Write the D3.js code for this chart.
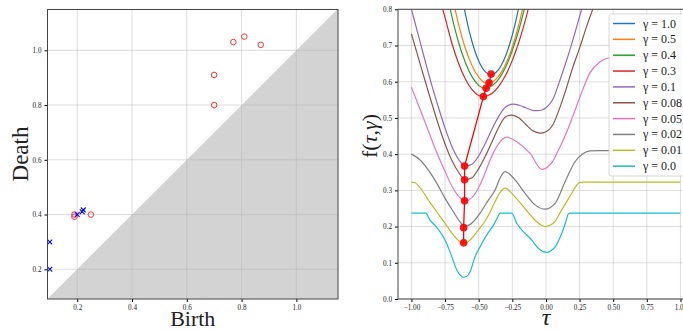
<!DOCTYPE html>
<html>
<head>
<meta charset="utf-8">
<script src="https://cdn.jsdelivr.net/npm/d3@7"></script>
<style>
  body { margin: 0; background: #fff; }
  svg { display: block; }
  text { font-family: "Liberation Serif", "DejaVu Serif", serif; fill: #222; }
  .tick text { font-size: 7.2px; }
</style>
</head>
<body>
<div class="container"></div>
<script>
// ---- persistence diagram (left) ----
const h0Birth = [0.10, 0.10, 0.20, 0.218, 0.222];
const h0Death = [0.20, 0.30, 0.40, 0.410, 0.417];
const h1Birth = [0.19, 0.19, 0.25, 0.70, 0.70, 0.77, 0.81, 0.87];
const h1Death = [0.40, 0.392, 0.40, 0.80, 0.91, 1.03, 1.05, 1.02];
const pdTicks = [0.2, 0.4, 0.6, 0.8, 1.0];

// ---- f(tau, gamma) curves (right) ----
const gammaLabels = ["1.0", "0.5", "0.4", "0.3", "0.1", "0.08", "0.05", "0.02", "0.01", "0.0"];
const lineColors = ["#1f77b4", "#ff7f0e", "#2ca02c", "#d62728", "#9467bd",
                    "#8c564b", "#e377c2", "#7f7f7f", "#bcbd22", "#17becf"];

const tau_g100 = [-0.63, -0.60, -0.55, -0.50, -0.45, -0.41, -0.37, -0.33, -0.30, -0.25, -0.20, -0.18];
const f_g100   = [0.85, 0.789, 0.711, 0.657, 0.627, 0.619, 0.626, 0.647, 0.671, 0.729, 0.809, 0.85];

const tau_g050 = [-0.70, -0.65, -0.60, -0.55, -0.50, -0.45, -0.43, -0.40, -0.35, -0.30, -0.25, -0.20, -0.15];
const f_g050   = [0.842, 0.759, 0.693, 0.645, 0.613, 0.597, 0.596, 0.599, 0.616, 0.648, 0.696, 0.76, 0.839];

const tau_g040 = [-0.75, -0.70, -0.65, -0.60, -0.55, -0.50, -0.45, -0.40, -0.35, -0.30, -0.25, -0.20, -0.15];
const f_g040   = [0.868, 0.781, 0.709, 0.654, 0.614, 0.59, 0.582, 0.589, 0.608, 0.64, 0.686, 0.745, 0.816];

const tau_g030 = [-0.80, -0.75, -0.70, -0.65, -0.60, -0.55, -0.50, -0.465, -0.43, -0.40, -0.35, -0.30, -0.25, -0.20, -0.15, -0.10];
const f_g030   = [0.84, 0.777, 0.707, 0.651, 0.608, 0.578, 0.562, 0.559, 0.562, 0.568, 0.588, 0.618, 0.659, 0.711, 0.774, 0.85];

const tau_g010 = [-1.00, -0.95, -0.90, -0.85, -0.80, -0.75, -0.70, -0.65, -0.60, -0.55, -0.50, -0.45, -0.40, -0.35, -0.30, -0.242, -0.20, -0.15, -0.10, -0.068, -0.03, 0.00, 0.05, 0.10, 0.15, 0.20, 0.266, 0.30];
const f_g010   = [0.80, 0.73, 0.66, 0.592, 0.53, 0.472, 0.422, 0.386, 0.367, 0.372, 0.395, 0.43, 0.47, 0.505, 0.53, 0.538, 0.535, 0.528, 0.521, 0.52, 0.522, 0.528, 0.55, 0.60, 0.655, 0.715, 0.80, 0.84];

const tau_g008 = [-1.00, -0.95, -0.90, -0.85, -0.80, -0.75, -0.70, -0.65, -0.60, -0.55, -0.50, -0.45, -0.40, -0.35, -0.30, -0.254, -0.20, -0.15, -0.10, -0.044, 0.00, 0.05, 0.10, 0.15, 0.20, 0.254, 0.30, 0.348, 0.40];
const f_g008   = [0.732, 0.668, 0.604, 0.542, 0.482, 0.428, 0.383, 0.35, 0.33, 0.335, 0.36, 0.395, 0.435, 0.475, 0.503, 0.508, 0.50, 0.482, 0.465, 0.458, 0.462, 0.48, 0.525, 0.58, 0.64, 0.697, 0.75, 0.80, 0.85];

const tau_g005 = [-1.00, -0.936, -0.874, -0.819, -0.75, -0.70, -0.65, -0.60, -0.55, -0.50, -0.45, -0.416, -0.35, -0.291, -0.22, -0.118, -0.031, 0.05, 0.092, 0.129, 0.20, 0.254, 0.328, 0.402, 0.477, 0.55, 0.75, 1.00];
const f_g005   = [0.585, 0.524, 0.464, 0.411, 0.352, 0.312, 0.284, 0.271, 0.28, 0.308, 0.35, 0.383, 0.43, 0.447, 0.435, 0.402, 0.358, 0.38, 0.411, 0.439, 0.505, 0.559, 0.625, 0.655, 0.667, 0.67, 0.67, 0.67];

const tau_g002 = [-1.00, -0.936, -0.874, -0.812, -0.75, -0.688, -0.639, -0.601, -0.552, -0.49, -0.428, -0.378, -0.34, -0.304, -0.23, -0.155, -0.081, -0.007, 0.068, 0.142, 0.216, 0.278, 0.328, 0.40, 0.50, 0.75, 1.00];
const f_g002   = [0.40, 0.384, 0.356, 0.32, 0.278, 0.241, 0.213, 0.20, 0.209, 0.237, 0.273, 0.301, 0.335, 0.352, 0.329, 0.292, 0.26, 0.248, 0.264, 0.324, 0.379, 0.402, 0.409, 0.41, 0.41, 0.41, 0.41];

const tau_g001 = [-1.00, -0.973, -0.923, -0.874, -0.812, -0.75, -0.688, -0.639, -0.614, -0.59, -0.564, -0.503, -0.44, -0.378, -0.34, -0.304, -0.242, -0.168, -0.094, -0.04, -0.007, 0.055, 0.117, 0.192, 0.23, 0.254, 0.30, 0.50, 0.75, 1.00];
const f_g001   = [0.323, 0.321, 0.301, 0.273, 0.241, 0.209, 0.177, 0.158, 0.153, 0.155, 0.163, 0.19, 0.223, 0.269, 0.295, 0.306, 0.287, 0.255, 0.223, 0.205, 0.20, 0.209, 0.246, 0.292, 0.315, 0.322, 0.323, 0.323, 0.323, 0.323];

const tau_g000 = [-1.00, -0.95, -0.894, -0.862, -0.812, -0.75, -0.70, -0.663, -0.635, -0.614, -0.59, -0.564, -0.527, -0.49, -0.44, -0.39, -0.36, -0.341, -0.30, -0.254, -0.217, -0.168, -0.106, -0.057, -0.02, 0.01, 0.04, 0.068, 0.117, 0.145, 0.167, 0.18, 0.25, 0.50, 0.75, 1.00];
const f_g000   = [0.237, 0.237, 0.237, 0.218, 0.198, 0.163, 0.117, 0.08, 0.065, 0.06, 0.062, 0.075, 0.117, 0.144, 0.177, 0.204, 0.225, 0.237, 0.237, 0.237, 0.209, 0.186, 0.163, 0.14, 0.131, 0.129, 0.134, 0.144, 0.181, 0.21, 0.235, 0.237, 0.237, 0.237, 0.237, 0.237];

// minima of each curve, joined by the red path
const minTau = [-0.408, -0.423, -0.445, -0.465, -0.605, -0.605, -0.605, -0.612, -0.612];
const minF   = [0.621, 0.597, 0.582, 0.559, 0.367, 0.329, 0.271, 0.197, 0.155];

const tauTicks = [-1.0, -0.75, -0.5, -0.25, 0.0, 0.25, 0.5, 0.75, 1.0];
const fTicks = [0.0, 0.1, 0.2, 0.3, 0.4, 0.5, 0.6, 0.7, 0.8];

const curveTaus = [tau_g100, tau_g050, tau_g040, tau_g030, tau_g010, tau_g008, tau_g005, tau_g002, tau_g001, tau_g000];
const curveFs   = [f_g100, f_g050, f_g040, f_g030, f_g010, f_g008, f_g005, f_g002, f_g001, f_g000];

const svg = d3.select(".container")
                .append("svg")
                  .attr("width", 683)
                  .attr("height", 330);

// ===================== left panel =====================
const left = {x0: 47.5, x1: 338, y0: 9.5, y1: 299};

const xPD = d3.scaleLinear().domain([0.0915, 1.152]).range([left.x0, left.x1]);
const yPD = d3.scaleLinear().domain([0.0915, 1.149]).range([left.y1, left.y0]);

svg.append("clipPath").attr("id", "clipL")
  .append("rect")
    .attr("x", left.x0).attr("y", left.y0)
    .attr("width", left.x1 - left.x0).attr("height", left.y1 - left.y0);

const gL = svg.append("g");

// shaded region below the diagonal
gL.append("path")
  .attr("clip-path", "url(#clipL)")
  .attr("fill", "#d3d3d3")
  .attr("d", d3.line()([
    [xPD(0.0915), yPD(0.0915)],
    [xPD(1.2), yPD(1.2)],
    [xPD(1.2), yPD(0.0915)]
  ]));

// grid
gL.selectAll(".vgrid").data(pdTicks).enter().append("line")
  .attr("x1", d => xPD(d)).attr("x2", d => xPD(d))
  .attr("y1", left.y0).attr("y2", left.y1)
  .attr("stroke", "#b0b0b0").attr("stroke-opacity", 0.55).attr("stroke-width", 0.8);
gL.selectAll(".hgrid").data(pdTicks).enter().append("line")
  .attr("y1", d => yPD(d)).attr("y2", d => yPD(d))
  .attr("x1", left.x0).attr("x2", left.x1)
  .attr("stroke", "#b0b0b0").attr("stroke-opacity", 0.55).attr("stroke-width", 0.8);

// H1 points: open red circles
gL.selectAll(".h1").data(h1Birth).enter().append("circle")
  .attr("cx", d => xPD(d))
  .attr("cy", (d, i) => yPD(h1Death[i]))
  .attr("r", 2.8)
  .attr("fill", "none")
  .attr("stroke", "#ff3030")
  .attr("stroke-width", 1);

// H0 points: blue crosses
const s = 2.4;
gL.selectAll(".h0").data(h0Birth).enter().append("path")
  .attr("d", (d, i) => {
    const cx = xPD(d), cy = yPD(h0Death[i]);
    return `M${cx - s},${cy - s}L${cx + s},${cy + s}M${cx - s},${cy + s}L${cx + s},${cy - s}`;
  })
  .attr("stroke", "#0000ff")
  .attr("stroke-width", 1.1);

gL.append("g")
  .attr("transform", `translate(0,${left.y1})`)
  .call(d3.axisBottom(xPD).tickValues(pdTicks).tickFormat(d3.format(".1f")).tickSize(3).tickPadding(3))
  .call(g => g.select(".domain").remove());
gL.append("g")
  .attr("transform", `translate(${left.x0},0)`)
  .call(d3.axisLeft(yPD).tickValues(pdTicks).tickFormat(d3.format(".1f")).tickSize(3).tickPadding(3))
  .call(g => g.select(".domain").remove());

gL.append("rect")
  .attr("x", left.x0).attr("y", left.y0)
  .attr("width", left.x1 - left.x0).attr("height", left.y1 - left.y0)
  .attr("fill", "none").attr("stroke", "#444").attr("stroke-width", 1);

gL.append("text")
  .attr("x", (left.x0 + left.x1) / 2).attr("y", 326)
  .attr("text-anchor", "middle")
  .style("font-size", "22px")
  .text("Birth");
gL.append("text")
  .attr("transform", "translate(28,154) rotate(-90)")
  .attr("text-anchor", "middle")
  .style("font-size", "23px")
  .text("Death");

// ===================== right panel =====================
const right = {x0: 398, x1: 693.9, y0: 9.3, y1: 299};

const xT = d3.scaleLinear().domain([-1.1, 1.1]).range([right.x0, right.x1]);
const yF = d3.scaleLinear().domain([0, 0.8]).range([right.y1, right.y0]);

svg.append("clipPath").attr("id", "clipR")
  .append("rect")
    .attr("x", right.x0).attr("y", right.y0)
    .attr("width", right.x1 - right.x0).attr("height", right.y1 - right.y0);

const gR = svg.append("g");

gR.selectAll(".vgrid").data(tauTicks).enter().append("line")
  .attr("x1", d => xT(d)).attr("x2", d => xT(d))
  .attr("y1", right.y0).attr("y2", right.y1)
  .attr("stroke", "#b0b0b0").attr("stroke-opacity", 0.55).attr("stroke-width", 0.8);
gR.selectAll(".hgrid").data(fTicks).enter().append("line")
  .attr("y1", d => yF(d)).attr("y2", d => yF(d))
  .attr("x1", right.x0).attr("x2", right.x1)
  .attr("stroke", "#b0b0b0").attr("stroke-opacity", 0.55).attr("stroke-width", 0.8);

const line = d3.line()
  .x(d => xT(d[0]))
  .y(d => yF(d[1]))
  .curve(d3.curveMonotoneX);

const plotArea = gR.append("g").attr("clip-path", "url(#clipR)");

plotArea.selectAll(".curve").data(curveTaus).enter().append("path")
  .attr("fill", "none")
  .attr("stroke", (d, i) => lineColors[i])
  .attr("stroke-width", 1.2)
  .attr("d", (d, i) => line(d.map((t, j) => [t, curveFs[i][j]])));

plotArea.append("path")
  .attr("fill", "none")
  .attr("stroke", "#ff0000")
  .attr("stroke-width", 1.3)
  .attr("d", d3.line().x(d => xT(d[0])).y(d => yF(d[1]))(minTau.map((t, i) => [t, minF[i]])));

plotArea.selectAll(".minpt").data(minTau).enter().append("circle")
  .attr("cx", d => xT(d))
  .attr("cy", (d, i) => yF(minF[i]))
  .attr("r", 3.8)
  .attr("fill", "#ff0000")
  .attr("fill-opacity", 0.9);

gR.append("g")
  .attr("transform", `translate(0,${right.y1})`)
  .call(d3.axisBottom(xT).tickValues(tauTicks).tickFormat(d3.format(".2f")).tickSize(3).tickPadding(3))
  .call(g => g.select(".domain").remove());
gR.append("g")
  .attr("transform", `translate(${right.x0},0)`)
  .call(d3.axisLeft(yF).tickValues(fTicks).tickFormat(d3.format(".1f")).tickSize(3).tickPadding(3))
  .call(g => g.select(".domain").remove());

gR.append("rect")
  .attr("x", right.x0).attr("y", right.y0)
  .attr("width", right.x1 - right.x0).attr("height", right.y1 - right.y0)
  .attr("fill", "none").attr("stroke", "#444").attr("stroke-width", 1);

// legend
const legend = gR.append("g").attr("transform", "translate(609,14)");
legend.append("rect")
  .attr("width", 90).attr("height", 162)
  .attr("rx", 2.5)
  .attr("fill", "#fff").attr("fill-opacity", 0.85)
  .attr("stroke", "#ccc").attr("stroke-width", 0.8);

const items = legend.selectAll(".item").data(gammaLabels).enter().append("g")
  .attr("transform", (d, i) => `translate(0,${9.5 + i * 15.85})`);
items.append("line")
  .attr("x1", 4).attr("x2", 26)
  .attr("stroke", (d, i) => lineColors[i])
  .attr("stroke-width", 1.5);
items.append("text")
  .attr("x", 34).attr("y", 4)
  .style("font-size", "12px")
  .text(d => "γ = " + d);

gR.append("text")
  .attr("x", xT(0)).attr("y", 325)
  .attr("text-anchor", "middle")
  .style("font-size", "24px")
  .style("font-style", "italic")
  .text("τ");

const fLabel = gR.append("text")
  .attr("transform", "translate(377,136) rotate(-90)")
  .attr("text-anchor", "middle")
  .style("font-size", "22px");
fLabel.append("tspan").text("f(");
fLabel.append("tspan").style("font-style", "italic").text("τ");
fLabel.append("tspan").text(",");
fLabel.append("tspan").style("font-style", "italic").text("γ");
fLabel.append("tspan").text(")");
</script>
</body>
</html>
